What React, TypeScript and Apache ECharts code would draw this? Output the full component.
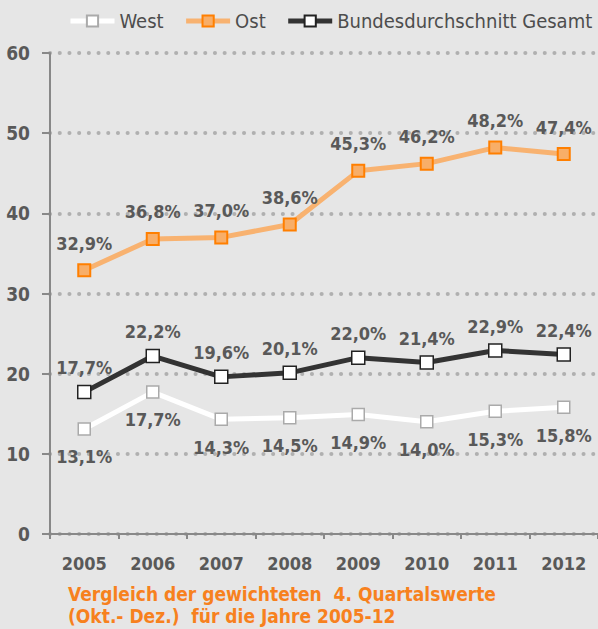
import React, { useEffect, useRef } from "react";
import * as echarts from "echarts";

const years = ["2005", "2006", "2007", "2008", "2009", "2010", "2011", "2012"];
const west = [13.1, 17.7, 14.3, 14.5, 14.9, 14.0, 15.3, 15.8];
const ost = [32.9, 36.8, 37.0, 38.6, 45.3, 46.2, 48.2, 47.4];
const bund = [17.7, 22.2, 19.6, 20.1, 22.0, 21.4, 22.9, 22.4];
const yTicks = [0, 10, 20, 30, 40, 50, 60];

const TXT = "#595959";
const NARROW = "'DejaVu Sans Condensed', 'DejaVu Sans', sans-serif";

const fmt = (p: any) => p.value.toFixed(1).replace(".", ",") + "%";

export default function App() {
  const ref = useRef<HTMLDivElement>(null);
  useEffect(() => {
    const chart = echarts.init(ref.current!, null, { renderer: "svg" });
    const label = (pos: string, dist: number) => ({
      show: true,
      position: pos,
      distance: dist,
      formatter: fmt,
      color: TXT,
      fontFamily: NARROW,
      fontWeight: "bold",
      fontSize: 18,
    });
    chart.setOption({
      animation: false,
      backgroundColor: "#e6e6e6",
      title: {
        text: "Vergleich der gewichteten  4. Quartalswerte\n(Okt.- Dez.)  für die Jahre 2005-12",
        left: 68,
        top: 578,
        padding: [5, 5, 0, 0],
        textStyle: { color: "#f7811e", fontSize: 19, fontWeight: "bold", fontFamily: NARROW, lineHeight: 22 },
      },
      legend: {
        top: 11,
        left: 68,
        right: 0,
        padding: 0,
        itemWidth: 44,
        itemHeight: 14,
        itemGap: 20,
        lineStyle: { width: 5 },
        textStyle: { color: "#4d4d4d", fontSize: 20, fontFamily: NARROW },
        data: ["West", "Ost", "Bundesdurchschnitt Gesamt"],
      },
      grid: { left: 50, right: 0, top: 53, bottom: 95 },
      xAxis: {
        type: "category",
        data: years,
        boundaryGap: true,
        axisLine: { lineStyle: { color: "#888", width: 2 } },
        axisTick: { show: true, length: 5, lineStyle: { color: "#888", width: 2 } },
        axisLabel: { color: TXT, fontSize: 18, fontWeight: "bold", fontFamily: NARROW, margin: 20 },
      },
      yAxis: {
        type: "value",
        min: 0,
        max: 60,
        interval: 10,
        axisLine: { show: true, lineStyle: { color: "#888", width: 2 } },
        axisTick: { show: true, length: 8, lineStyle: { color: "#888", width: 2 } },
        axisLabel: {
          color: TXT, fontSize: 19, fontWeight: "bold", fontFamily: NARROW, margin: 20,
          formatter: (v: number) => (yTicks.includes(v) ? String(v) : ""),
        },
        splitLine: {
          show: true,
          lineStyle: { color: "#b0b0b0", width: 4, type: [0.1, 9.6], cap: "round" },
        },
      },
      series: [
        {
          name: "West",
          type: "line",
          data: west,
          symbol: "rect",
          symbolSize: 12,
          lineStyle: { color: "#ffffff", width: 5 },
          itemStyle: { color: "#ffffff", borderColor: "#aaaaaa", borderWidth: 1.5 },
          label: label("bottom", 12),
          z: 2,
        },
        {
          name: "Ost",
          type: "line",
          data: ost,
          symbol: "rect",
          symbolSize: 12,
          lineStyle: { color: "#f8b270", width: 5 },
          itemStyle: { color: "#f8ae68", borderColor: "#ff7f00", borderWidth: 2 },
          label: label("top", 11),
          z: 3,
        },
        {
          name: "Bundesdurchschnitt Gesamt",
          type: "line",
          data: bund,
          symbol: "rect",
          symbolSize: 13,
          lineStyle: { color: "#333333", width: 5 },
          itemStyle: { color: "#ffffff", borderColor: "#222222", borderWidth: 1.5 },
          label: label("top", 8),
          z: 4,
        },
      ],
    });
    return () => chart.dispose();
  }, []);
  return <div ref={ref} style={{ position: "fixed", left: 0, top: 0, width: 598, height: 629 }} />;
}
